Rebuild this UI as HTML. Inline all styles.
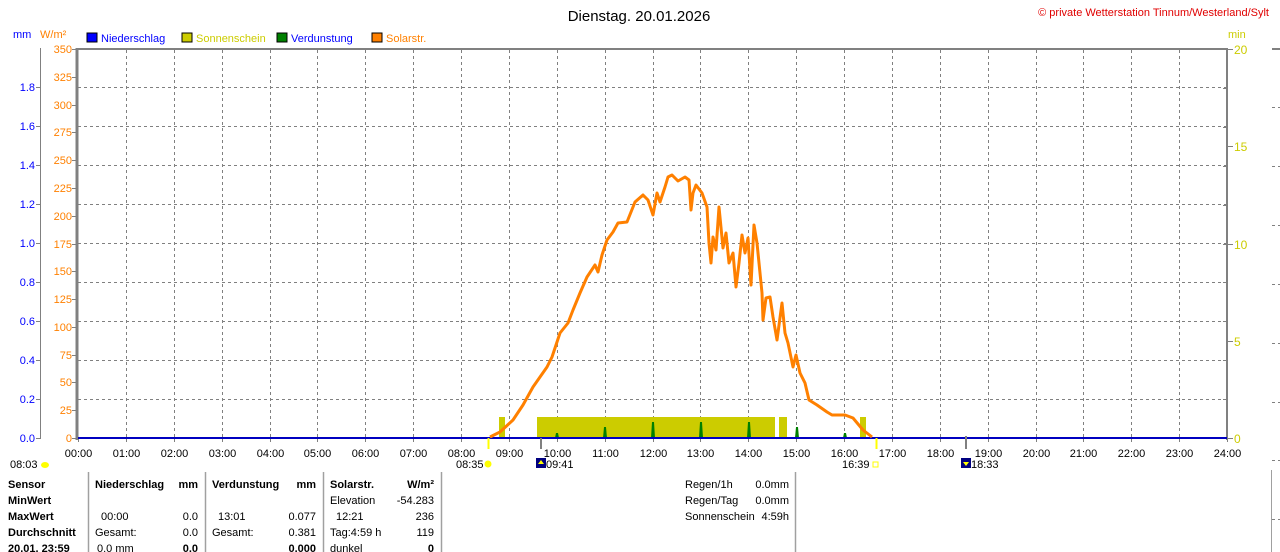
<!DOCTYPE html>
<html><head><meta charset="utf-8"><style>
html,body{margin:0;padding:0;background:#fff;}
svg{display:block;font-family:"Liberation Sans",Arial,sans-serif;font-size:11px;}
.b{font-weight:bold;}
</style></head><body>
<svg width="1280" height="552" viewBox="0 0 1280 552" xmlns="http://www.w3.org/2000/svg">
<rect width="1280" height="552" fill="#fff"/>
<text x="639" y="21" text-anchor="middle" font-size="15" fill="#000">Dienstag. 20.01.2026</text>
<text x="1269" y="16" text-anchor="end" fill="#e00000">© private Wetterstation Tinnum/Westerland/Sylt</text>
<text x="13" y="38" fill="#0000ff">mm</text>
<text x="40" y="38" fill="#ff8000">W/m²</text>
<rect x="87" y="33" width="10" height="9" fill="#0000ff" stroke="#000"/><text x="101" y="42" fill="#0000ff">Niederschlag</text>
<rect x="182" y="33" width="10" height="9" fill="#cccc00" stroke="#000"/><text x="196" y="42" fill="#cccc00">Sonnenschein</text>
<rect x="277" y="33" width="10" height="9" fill="#008000" stroke="#000"/><text x="291" y="42" fill="#0000ff">Verdunstung</text>
<rect x="372" y="33" width="10" height="9" fill="#ff8000" stroke="#000"/><text x="386" y="42" fill="#ff8000">Solarstr.</text>
<text x="1228" y="38" fill="#cccc00">min</text>

<!-- grid -->
<g stroke="#808080" stroke-dasharray="3,3" stroke-width="1">
<line x1="78" y1="399.5" x2="1227" y2="399.5"/><line x1="78" y1="360.5" x2="1227" y2="360.5"/><line x1="78" y1="321.5" x2="1227" y2="321.5"/><line x1="78" y1="282.5" x2="1227" y2="282.5"/><line x1="78" y1="243.5" x2="1227" y2="243.5"/><line x1="78" y1="204.5" x2="1227" y2="204.5"/><line x1="78" y1="165.5" x2="1227" y2="165.5"/><line x1="78" y1="126.5" x2="1227" y2="126.5"/><line x1="78" y1="87.5" x2="1227" y2="87.5"/>
</g>
<g id="vg" stroke="#808080" stroke-dasharray="3,3" stroke-width="1"></g>
<!-- frame -->
<line x1="77" y1="49" x2="1228" y2="49" stroke="#808080" stroke-width="2"/>
<line x1="77" y1="48" x2="77" y2="440" stroke="#808080" stroke-width="3"/>
<line x1="1227" y1="48" x2="1227" y2="440" stroke="#808080" stroke-width="2"/>
<line x1="40.5" y1="48" x2="40.5" y2="438" stroke="#808080" stroke-width="1"/>
<line x1="1272" y1="49" x2="1280" y2="49" stroke="#808080" stroke-width="2"/>
<g stroke="#808080" stroke-dasharray="3,3"><line x1="1272" y1="107.5" x2="1280" y2="107.5"/><line x1="1272" y1="166.5" x2="1280" y2="166.5"/><line x1="1272" y1="225.5" x2="1280" y2="225.5"/><line x1="1272" y1="284.5" x2="1280" y2="284.5"/><line x1="1272" y1="343.5" x2="1280" y2="343.5"/><line x1="1272" y1="402.5" x2="1280" y2="402.5"/><line x1="1272" y1="460.5" x2="1280" y2="460.5"/><line x1="1272" y1="519.5" x2="1280" y2="519.5"/></g>
<line x1="1271.5" y1="470" x2="1271.5" y2="552" stroke="#a0a0a0"/>
<g id="axes"></g>

<!-- sunshine -->
<g fill="#cccc00">
<rect x="499" y="417" width="6" height="21"/><rect x="537" y="417" width="238" height="21"/><rect x="779" y="417" width="8" height="21"/><rect x="860" y="417" width="6" height="21"/>
</g>
<g fill="#008000">
<polygon points="555,438 556,433 558,433 559,438"/><polygon points="603,438 604,427 606,427 607,438"/><polygon points="651,438 652,422 654,422 655,438"/><polygon points="699,438 700,422 702,422 703,438"/><polygon points="747,438 748,422 750,422 751,438"/><polygon points="795,438 796,427 798,427 799,438"/><polygon points="843,438 844,433 846,433 847,438"/>
</g>
<line x1="78" y1="438" x2="1227" y2="438" stroke="#0000c0" stroke-width="2"/>
<polyline fill="none" stroke="#ff8000" stroke-width="3" stroke-linejoin="round" points="490,437 500,432 513,420 523,405 533,387 547,367 552,357 560,333 568,323 573,310 580,293 587,277 595,265 598,272 602,255 607,240 613,232 618,223 627,222 635,202 643,195 648,200 653,215 657,193 660,202 665,187 668,177 672,175 678,181 685,177 689,180 691,210 693,193 696,185 702,193 707,207 709,243 711,263 713,237 716,250 719,207 723,248 726,233 729,263 733,253 736,287 739,263 742,235 745,253 748,238 751,285 754,225 757,243 762,293 763,320 766,298 770,297 773,317 777,340 782,303 785,333 788,343 793,367 796,355 800,373 805,383 809,400 817,405 827,412 832,415 845,415 853,418 863,430 872,437"/>

<!-- event ticks -->
<line x1="488.5" y1="438" x2="488.5" y2="449" stroke="#ffff00" stroke-width="2"/>
<line x1="541" y1="438" x2="541" y2="449" stroke="#808080" stroke-width="2"/>
<line x1="876.5" y1="438" x2="876.5" y2="449" stroke="#ffff00" stroke-width="2"/>
<line x1="966" y1="436" x2="966" y2="449" stroke="#808080" stroke-width="2"/>
<g id="hl"></g>
<text x="10" y="468">08:03</text><ellipse cx="45" cy="465" rx="4" ry="3" fill="#ffff00"/>
<text x="456" y="468">08:35</text><circle cx="488" cy="464" r="3.5" fill="#ffff00"/>
<rect x="536" y="458" width="10" height="10" fill="#000080"/><path d="M541 460 L544 464 L538 464 Z" fill="#ffff00"/><text x="546" y="468">09:41</text>
<text x="842" y="468">16:39</text><rect x="873" y="462" width="5" height="5" fill="none" stroke="#ffff00"/>
<rect x="961" y="458" width="10" height="10" fill="#000080"/><path d="M966 466 L969 462 L963 462 Z" fill="#ffff00"/><text x="971" y="468">18:33</text>

<!-- table -->
<g stroke="#a0a0a0" stroke-width="1.5"><line x1="88.5" y1="472" x2="88.5" y2="552"/><line x1="205.5" y1="472" x2="205.5" y2="552"/><line x1="323.5" y1="472" x2="323.5" y2="552"/><line x1="441.5" y1="472" x2="441.5" y2="552"/><line x1="795.5" y1="472" x2="795.5" y2="552"/></g>
<g class="b"><text x="8" y="488">Sensor</text><text x="8" y="504">MinWert</text><text x="8" y="520">MaxWert</text><text x="8" y="536">Durchschnitt</text><text x="8" y="552">20.01. 23:59</text>
<text x="95" y="488">Niederschlag</text><text x="198" y="488" text-anchor="end">mm</text>
<text x="212" y="488">Verdunstung</text><text x="316" y="488" text-anchor="end">mm</text>
<text x="330" y="488">Solarstr.</text><text x="434" y="488" text-anchor="end">W/m²</text>
<text x="198" y="552" text-anchor="end">0.0</text><text x="316" y="552" text-anchor="end">0.000</text><text x="434" y="552" text-anchor="end">0</text></g>
<text x="101" y="520">00:00</text><text x="198" y="520" text-anchor="end">0.0</text>
<text x="95" y="536">Gesamt:</text><text x="198" y="536" text-anchor="end">0.0</text>
<text x="97" y="552">0.0 mm</text>
<text x="218" y="520">13:01</text><text x="316" y="520" text-anchor="end">0.077</text>
<text x="212" y="536">Gesamt:</text><text x="316" y="536" text-anchor="end">0.381</text>
<text x="330" y="504">Elevation</text><text x="434" y="504" text-anchor="end">-54.283</text>
<text x="336" y="520">12:21</text><text x="434" y="520" text-anchor="end">236</text>
<text x="330" y="536">Tag:4:59 h</text><text x="434" y="536" text-anchor="end">119</text>
<text x="330" y="552">dunkel</text>
<text x="685" y="488">Regen/1h</text><text x="789" y="488" text-anchor="end">0.0mm</text>
<text x="685" y="504">Regen/Tag</text><text x="789" y="504" text-anchor="end">0.0mm</text>
<text x="685" y="520">Sonnenschein</text><text x="789" y="520" text-anchor="end">4:59h</text>
</svg>
<script>
var ns="http://www.w3.org/2000/svg";
function el(p,t,a,txt){var e=document.createElementNS(ns,t);for(var k in a)e.setAttribute(k,a[k]);if(txt!=null)e.textContent=txt;p.appendChild(e);return e;}
var vg=document.getElementById('vg'),ax=document.getElementById('axes'),hl=document.getElementById('hl');
for(var h=0;h<=24;h++){var x=Math.round(78+47.875*h)+0.5;
 if(h>0&&h<24)el(vg,'line',{x1:x,y1:50,x2:x,y2:437});
 el(ax,'line',{x1:x,y1:438,x2:x,y2:442,stroke:'#808080'});
 el(hl,'text',{x:x,y:457,'text-anchor':'middle'},(h<10?'0':'')+h+':00');}
for(var k=0;k<=9;k++){var y=438-39*k;
 el(ax,'line',{x1:36,y1:y+.5,x2:41,y2:y+.5,stroke:'#808080'});
 el(ax,'text',{x:35,y:y+4,'text-anchor':'end',fill:'#0000ff'},(k*0.2).toFixed(1));}
for(var k=0;k<=14;k++){var y=Math.round(438-389/14*k);
 el(ax,'line',{x1:72,y1:y+.5,x2:77,y2:y+.5,stroke:'#808080'});
 el(ax,'text',{x:72,y:y+4,'text-anchor':'end',fill:'#ff8000'},String(k*25));}
for(var m=0;m<=20;m+=2){var y=Math.round(438-389/20*m);
 el(ax,'line',{x1:1223,y1:y+.5,x2:1227,y2:y+.5,stroke:'#808080'});}
for(var m=0;m<=20;m+=5){var y=Math.round(438-389/20*m);
 el(ax,'line',{x1:1227,y1:y+.5,x2:1233,y2:y+.5,stroke:'#808080'});
 el(ax,'text',{x:1234,y:y+5,fill:'#cccc00','font-size':'12'},String(m));}
</script>
</body></html>
